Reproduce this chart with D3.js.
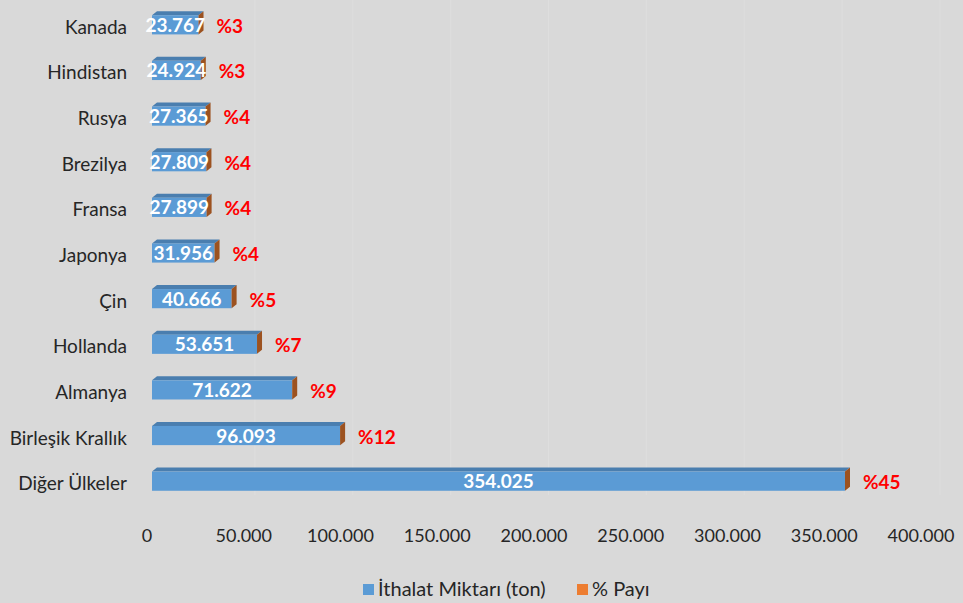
<!DOCTYPE html>
<html>
<head>
<meta charset="utf-8">
<script src="https://cdn.jsdelivr.net/npm/d3@7/dist/d3.min.js"></script>
<style>
  body { margin: 0; background: #d9d9d9; }
  svg { display: block; font-family: Lato, "Open Sans", sans-serif; }
</style>
</head>
<body>
<script>
const countries = ["Kanada", "Hindistan", "Rusya", "Brezilya", "Fransa", "Japonya", "Çin",
  "Hollanda", "Almanya", "Birleşik Krallık", "Diğer Ülkeler"];
const imports = [23767, 24924, 27365, 27809, 27899, 31956, 40666, 53651, 71622, 96093, 354025];
const shares = [3, 3, 4, 4, 4, 4, 5, 7, 9, 12, 45];
const ticks = [0, 50000, 100000, 150000, 200000, 250000, 300000, 350000, 400000];
const seriesNames = ["İthalat Miktarı (ton)", "% Payı"];

const width = 963, height = 603;
const depth = 5;
const fmt = v => d3.format(",")(v).replace(/,/g, ".");

const svg = d3.select("body").append("svg")
  .attr("width", width).attr("height", height);

// bars live on the back plane, tick labels on the front edge
const xBar = d3.scaleLinear().domain([0, 354025]).range([152, 845]);
const xAxis = d3.scaleLinear().domain([0, 400000]).range([147, 921]);
const y = d3.scaleBand().domain(countries).range([2, 504]).paddingInner(0.58).paddingOuter(0.29);

// faint gridlines
svg.append("g").selectAll("line").data(ticks.slice(1)).join("line")
  .attr("x1", d => xBar(d) + depth).attr("x2", d => xBar(d) + depth)
  .attr("y1", 0).attr("y2", 495)
  .attr("stroke", "#dedede").attr("stroke-width", 1);

const rows = countries.map((c, i) => ({ c, v: imports[i], p: shares[i] }));

const bar = svg.append("g").selectAll("g").data(rows).join("g")
  .attr("transform", d => `translate(0,${y(d.c)})`);

const bh = y.bandwidth();

// top face
bar.append("path")
  .attr("d", d => {
    const x0 = xBar(0), x1 = xBar(d.v);
    return `M${x0},0 L${x0 + depth},${-depth + 1} L${x1 + depth},${-depth + 1} L${x1},0 Z`;
  })
  .attr("fill", "#4a7eaf");

// front face
bar.append("rect")
  .attr("x", xBar(0)).attr("y", 0)
  .attr("width", d => xBar(d.v) - xBar(0)).attr("height", bh)
  .attr("fill", "#5b9bd5");

// side face (the % series sits at the end of the bar)
bar.append("path")
  .attr("d", d => {
    const x1 = xBar(d.v);
    return `M${x1},0 L${x1 + depth},${-depth + 1} L${x1 + depth},${bh - depth + 1} L${x1},${bh} Z`;
  })
  .attr("fill", "#9c5220");

// value labels
bar.append("text")
  .attr("x", d => (xBar(0) + xBar(d.v)) / 2)
  .attr("y", bh / 2 + 7)
  .attr("text-anchor", "middle")
  .attr("fill", "#fff").attr("font-weight", "bold").attr("font-size", 19)
  .text(d => fmt(d.v));

// share labels
bar.append("text")
  .attr("x", d => xBar(d.v) + 18)
  .attr("y", bh / 2 + 8)
  .attr("fill", "#ff0000").attr("font-weight", "bold").attr("font-size", 19)
  .text(d => "%" + d.p);

// category labels
svg.append("g").selectAll("text").data(countries).join("text")
  .attr("x", 127).attr("y", d => y(d) + bh / 2 + 9)
  .attr("text-anchor", "end")
  .attr("fill", "#262626").attr("font-size", 19)
  .text(d => d);

// x tick labels
svg.append("g").selectAll("text").data(ticks).join("text")
  .attr("x", d => xAxis(d)).attr("y", 542)
  .attr("text-anchor", "middle")
  .attr("fill", "#262626").attr("font-size", 18)
  .text(d => fmt(d));

// legend
const legend = svg.append("g");
const legX = [363, 577];
const legColors = ["#5b9bd5", "#ed7d31"];
seriesNames.forEach((n, i) => {
  legend.append("rect").attr("x", legX[i]).attr("y", 584).attr("width", 11).attr("height", 11)
    .attr("fill", legColors[i]);
  legend.append("text").attr("x", legX[i] + 15).attr("y", 596)
    .attr("fill", "#262626").attr("font-size", 20).text(n);
});
</script>
</body>
</html>
